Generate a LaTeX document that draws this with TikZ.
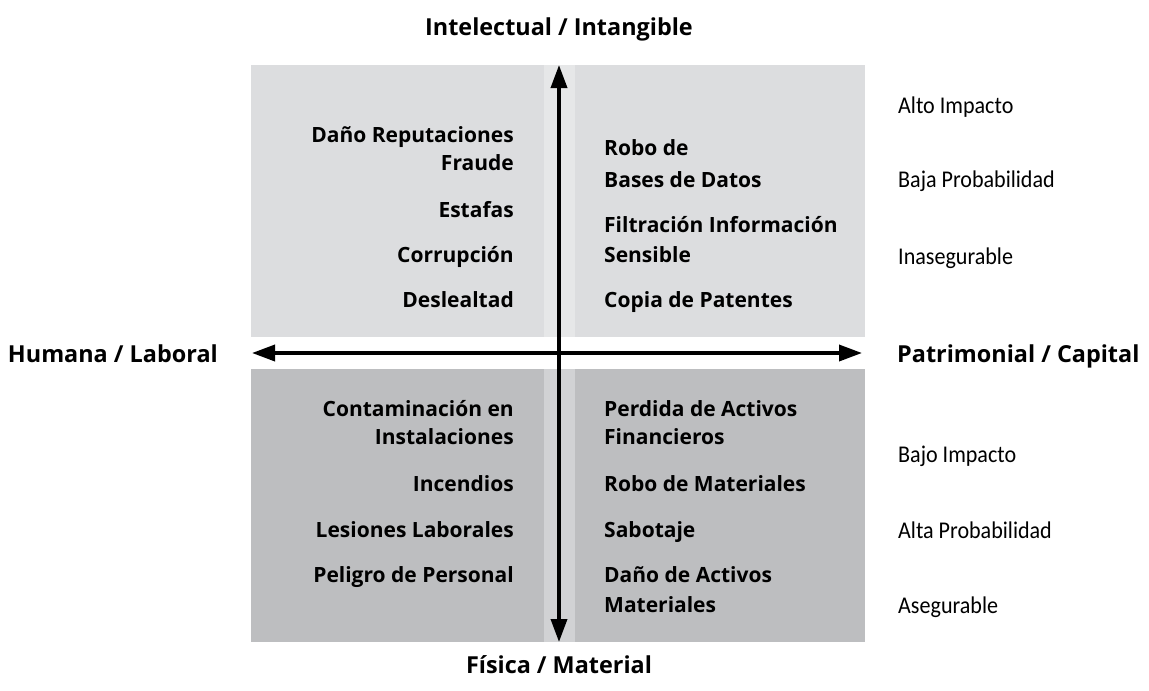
\documentclass[tikz,border=0pt]{standalone}
\usepackage{fontspec}
\setmainfont{Open Sans}
\newfontfamily\notefont[FakeStretch=0.92]{Carlito}
\usetikzlibrary{arrows.meta}

\definecolor{topgray}{HTML}{DCDDDF}
\definecolor{topstrip}{HTML}{E6E7E8}
\definecolor{botgray}{HTML}{BDBEC0}
\definecolor{botstrip}{HTML}{D1D2D4}

\begin{document}
\begin{tikzpicture}[x=1pt,y=-1pt,
  axis/.style={line width=3.6pt,{Triangle[length=23pt,width=16pt]}-{Triangle[length=23pt,width=16pt]}},
  item/.style={inner sep=0pt,anchor=base,font=\fontsize{21}{21}\selectfont\bfseries},
  head/.style={inner sep=0pt,anchor=base,font=\fontsize{23.4}{23.4}\selectfont\bfseries},
  note/.style={inner sep=0pt,anchor=base west,font=\fontsize{24}{24}\selectfont\notefont}]
\useasboundingbox (0,0) rectangle (1149,691);

\pgfmathsetmacro{\xl}{251};
\pgfmathsetmacro{\xa}{544};
\pgfmathsetmacro{\xb}{575};
\pgfmathsetmacro{\xr}{865};
\pgfmathsetmacro{\xm}{559};
\pgfmathsetmacro{\ym}{353};

% panels
\fill[topgray] (\xl,65) rectangle (\xa,337);
\fill[topstrip] (\xa,65) rectangle (\xb,337);
\fill[topgray] (\xb,65) rectangle (\xr,337);
\fill[botgray] (\xl,369) rectangle (\xa,642);
\fill[botstrip] (\xa,369) rectangle (\xb,642);
\fill[botgray] (\xb,369) rectangle (\xr,642);

% axes
\coordinate (west) at (252,\ym);
\coordinate (east) at (862,\ym);
\coordinate (north) at (\xm,65);
\coordinate (south) at (\xm,642);
\draw[axis] (west) -- (east);
\draw[axis] (north) -- (south);

% axis names
\node[head] (intelectual) at (\xm,35) {Intelectual / Intangible};
\node[head] (fisica) at (\xm,673) {Física / Material};
\node[head,anchor=base east] (humana) at (218,362) {Humana / Laboral};
\node[head,anchor=base west] (patrimonial) at (897,362) {Patrimonial / Capital};

% top left
\begin{scope}[every node/.style={item,anchor=base east}]
\node (dano) at (514,142) {Daño Reputaciones};
\node (fraude) at (514,170) {Fraude};
\node (estafas) at (514,217) {Estafas};
\node (corrupcion) at (514,262) {Corrupción};
\node (deslealtad) at (514,307) {Deslealtad};
\end{scope}

% top right
\begin{scope}[every node/.style={item,anchor=base west}]
\node (robo) at (604,155) {Robo de};
\node (bases) at (604,187) {Bases de Datos};
\node (filtracion) at (604,232) {Filtración Información};
\node (sensible) at (604,262) {Sensible};
\node (copia) at (604,307) {Copia de Patentes};
\end{scope}

% bottom left
\begin{scope}[every node/.style={item,anchor=base east}]
\node (contaminacion) at (514,416) {Contaminación en};
\node (instalaciones) at (514,444) {Instalaciones};
\node (incendios) at (514,491) {Incendios};
\node (lesiones) at (514,537) {Lesiones Laborales};
\node (peligro) at (514,582) {Peligro de Personal};
\end{scope}

% bottom right
\begin{scope}[every node/.style={item,anchor=base west}]
\node (perdida) at (604,416) {Perdida de Activos};
\node (financieros) at (604,444) {Financieros};
\node (robomat) at (604,491) {Robo de Materiales};
\node (sabotaje) at (604,537) {Sabotaje};
\node (danoact) at (604,582) {Daño de Activos};
\node (materiales) at (604,612) {Materiales};
\end{scope}

% notes
\node[note] (alto) at (898,113) {Alto Impacto};
\node[note] (baja) at (898,187) {Baja Probabilidad};
\node[note] (inasegurable) at (898,264) {Inasegurable};
\node[note] (bajo) at (898,462) {Bajo Impacto};
\node[note] (altaprob) at (898,538) {Alta Probabilidad};
\node[note] (asegurable) at (898,613) {Asegurable};
\end{tikzpicture}
\end{document}
